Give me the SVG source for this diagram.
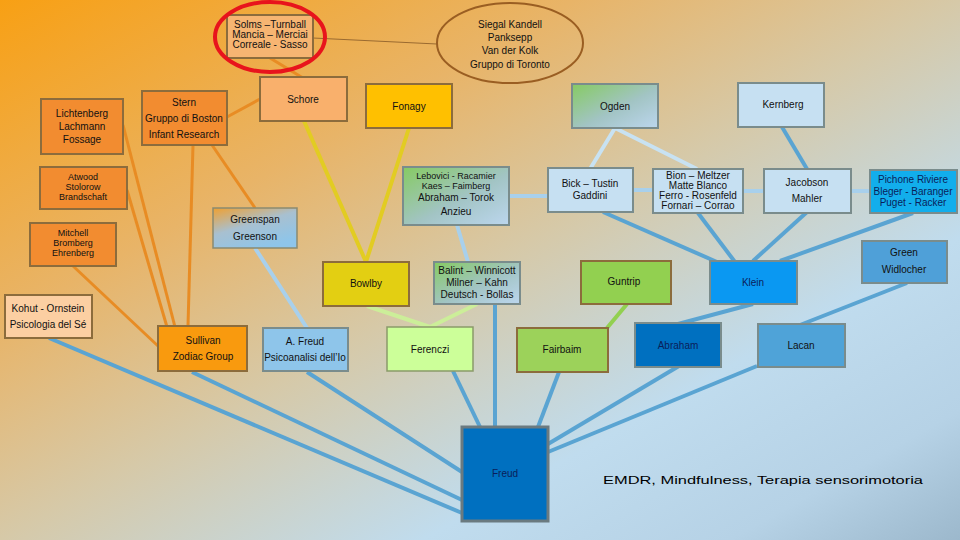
<svg xmlns="http://www.w3.org/2000/svg" width="960" height="540" viewBox="0 0 960 540">
<defs>
<linearGradient id="bg" x1="0" y1="0" x2="1" y2="1">
<stop offset="0" stop-color="#F8A014"/>
<stop offset="0.3" stop-color="#E8B468"/>
<stop offset="0.5" stop-color="#D6C9A8"/>
<stop offset="0.72" stop-color="#C0DCEE"/>
<stop offset="0.88" stop-color="#B6D2E6"/>
<stop offset="1" stop-color="#9CB8CC"/>
</linearGradient>
<linearGradient id="gb" x1="0" y1="0" x2="1" y2="1">
<stop offset="0" stop-color="#86CB62"/>
<stop offset="0.55" stop-color="#A2C4C4"/>
<stop offset="1" stop-color="#BCD6EE"/>
</linearGradient>
<linearGradient id="ob" x1="0" y1="0" x2="0.6" y2="1">
<stop offset="0" stop-color="#F0A030"/>
<stop offset="0.5" stop-color="#A8C0D0"/>
<stop offset="1" stop-color="#8EC5EA"/>
</linearGradient>
<style>
text{font-family:"Liberation Sans",Arial,sans-serif;font-size:10px;text-anchor:middle;fill:#111}
.t9{font-size:9px}
.or{stroke:#8C6C3C;stroke-width:2}
.bl{stroke:#7A8C8C;stroke-width:2}
.c line{fill:none;stroke-linecap:butt}
.co{stroke:#E88C24;stroke-width:3}
.cy{stroke:#E2CC22;stroke-width:4}
.cl{stroke:#A8D0EC;stroke-width:4}
.cvl{stroke:#C8E2F2;stroke-width:4}
.cb{stroke:#5AA4D2;stroke-width:4}
.cg{stroke:#CCEE99;stroke-width:4}
.cgr{stroke:#92D050;stroke-width:4}
.dk{fill:#0A1E5A}
</style>
</defs>
<rect width="960" height="540" fill="url(#bg)"/>
<g class="c" id="connectors">
<line x1="313" y1="38" x2="437" y2="44" stroke="#9A6A30" stroke-width="1"/>
<line class="co" x1="270" y1="58" x2="303" y2="78"/>
<line class="co" x1="227" y1="117" x2="260" y2="99"/>
<line class="co" x1="212" y1="145" x2="255" y2="208"/>
<line class="co" x1="193" y1="145" x2="188" y2="326"/>
<line class="co" x1="123" y1="125" x2="175" y2="327"/>
<line class="co" x1="127" y1="190" x2="167" y2="327"/>
<line class="co" x1="73" y1="266" x2="158" y2="346"/>
<line class="cy" x1="304" y1="121" x2="366" y2="262"/>
<line class="cy" x1="409" y1="128" x2="366" y2="262"/>
<line class="cl" x1="255" y1="248" x2="307" y2="328"/>
<line class="cl" x1="457" y1="225" x2="468" y2="262" stroke="#8CBCE0"/>
<line class="cl" x1="509" y1="196" x2="548" y2="196"/>
<line class="cvl" x1="615" y1="128" x2="590" y2="169"/>
<line class="cvl" x1="615" y1="128" x2="697" y2="169"/>
<line class="cl" x1="633" y1="190" x2="653" y2="190"/>
<line class="cl" x1="743" y1="191" x2="764" y2="191"/>
<line class="cl" x1="851" y1="191" x2="870" y2="191"/>
<line class="cg" x1="367" y1="306" x2="430" y2="327"/>
<line class="cg" x1="477" y1="304" x2="430" y2="327"/>
<line class="cb" x1="782" y1="127" x2="807" y2="169"/>
<line class="cb" x1="603" y1="212" x2="717" y2="262"/>
<line class="cb" x1="698" y1="213" x2="735" y2="262"/>
<line class="cb" x1="807" y1="212" x2="753" y2="261"/>
<line class="cb" x1="913" y1="213" x2="780" y2="261"/>
<line class="cb" x1="753" y1="304" x2="678" y2="324"/>
<line class="cb" x1="907" y1="283" x2="800" y2="325"/>
<line class="cgr" x1="627" y1="304" x2="607" y2="328"/>
<line class="cb" x1="495" y1="304" x2="495" y2="427"/>
<line class="cb" x1="453" y1="371" x2="480" y2="427"/>
<line class="cb" x1="559" y1="372" x2="538" y2="427"/>
<line class="cb" x1="679" y1="366" x2="548" y2="444"/>
<line class="cb" x1="757" y1="366" x2="548" y2="452"/>
<line class="cb" x1="49" y1="338" x2="462" y2="513"/>
<line class="cb" x1="192" y1="372" x2="462" y2="500"/>
<line class="cb" x1="307" y1="372" x2="462" y2="472"/>
</g>
<g id="solms">
<rect class="or" x="227" y="15" width="86" height="43" fill="#F6B572"/>
<text x="270" y="28">Solms –Turnball</text>
<text x="270" y="38">Mancia – Merciai</text>
<text x="270" y="48">Correale - Sasso</text>
<ellipse cx="270" cy="37" rx="55" ry="35" fill="none" stroke="#E8141C" stroke-width="4"/>
</g>
<g id="siegal">
<ellipse cx="510" cy="43" rx="73" ry="40" fill="none" stroke="#9A5E22" stroke-width="2"/>
<text x="510" y="28">Siegal Kandell</text>
<text x="510" y="41">Panksepp</text>
<text x="510" y="54">Van der Kolk</text>
<text x="510" y="68">Gruppo di Toronto</text>
</g>
<g id="schore"><rect class="or" x="260" y="77" width="87" height="44" fill="#F9B06C"/><text x="303" y="103">Schore</text></g>
<g id="fonagy"><rect class="or" x="366" y="84" width="86" height="44" fill="#FFC000"/><text x="409" y="110">Fonagy</text></g>
<g id="stern"><rect class="or" x="142" y="91" width="85" height="54" fill="#F28C30"/>
<text x="184" y="106">Stern</text><text x="184" y="122">Gruppo di Boston</text><text x="184" y="138">Infant Research</text></g>
<g id="lichtenberg"><rect class="or" x="41" y="99" width="82" height="55" fill="#F28C30"/>
<text x="82" y="117">Lichtenberg</text><text x="82" y="130">Lachmann</text><text x="82" y="143">Fossage</text></g>
<g id="atwood"><rect class="or" x="40" y="167" width="87" height="42" fill="#F28C30"/>
<text class="t9" x="83" y="180">Atwood</text><text class="t9" x="83" y="190">Stolorow</text><text class="t9" x="83" y="200">Brandschaft</text></g>
<g id="mitchell"><rect class="or" x="30" y="223" width="86" height="43" fill="#F28C30"/>
<text class="t9" x="73" y="236">Mitchell</text><text class="t9" x="73" y="246">Bromberg</text><text class="t9" x="73" y="256">Ehrenberg</text></g>
<g id="kohut"><rect class="or" x="5" y="295" width="87" height="43" fill="#FCCFA2" stroke-width="1.5"/>
<text x="48" y="312">Kohut - Ornstein</text><text x="48" y="328">Psicologia del Sé</text></g>
<g id="greenspan"><rect x="213" y="208" width="84" height="40" fill="url(#ob)" stroke="#8A8A70" stroke-width="1.5"/>
<text x="255" y="223">Greenspan</text><text x="255" y="240">Greenson</text></g>
<g id="sullivan"><rect class="or" x="158" y="326" width="89" height="45" fill="#F99A0E"/>
<text x="203" y="344">Sullivan</text><text x="203" y="360">Zodiac Group</text></g>
<g id="afreud"><rect class="bl" x="263" y="328" width="85" height="43" fill="#8EC5EA" stroke-width="1.5"/>
<text x="305" y="345">A. Freud</text><text x="305" y="361" font-size="9.5">Psicoanalisi dell’Io</text></g>
<g id="bowlby"><rect class="or" x="323" y="262" width="86" height="44" fill="#E3CF12"/><text x="366" y="287">Bowlby</text></g>
<g id="lebovici"><rect class="bl" x="403" y="167" width="106" height="58" fill="url(#gb)"/>
<text class="t9" x="456" y="179">Lebovici - Racamier</text><text class="t9" x="456" y="189">Kaes – Faimberg</text><text x="456" y="201">Abraham – Torok</text><text x="456" y="215">Anzieu</text></g>
<g id="balint"><rect class="bl" x="434" y="262" width="86" height="42" fill="url(#gb)"/>
<text x="477" y="274">Balint – Winnicott</text><text x="477" y="286">Milner – Kahn</text><text x="477" y="298">Deutsch - Bollas</text></g>
<g id="ferenczi"><rect x="387" y="327" width="86" height="44" fill="#CCFF99" stroke="#8A9A6A" stroke-width="1.5"/><text x="430" y="353">Ferenczi</text></g>
<g id="ogden"><rect class="bl" x="572" y="84" width="86" height="44" fill="url(#gb)"/><text x="615" y="110">Ogden</text></g>
<g id="kernberg"><rect class="bl" x="738" y="83" width="86" height="44" fill="#C6E0F2"/><text x="783" y="108">Kernberg</text></g>
<g id="bick"><rect class="bl" x="548" y="168" width="85" height="44" fill="#C6E0F2"/>
<text x="590" y="187">Bick – Tustin</text><text x="590" y="199">Gaddini</text></g>
<g id="bion"><rect class="bl" x="653" y="169" width="90" height="44" fill="#C6E0F2"/>
<text x="698" y="179">Bion – Meltzer</text><text x="698" y="189">Matte Blanco</text><text x="698" y="199">Ferro - Rosenfeld</text><text x="698" y="209">Fornari – Corrao</text></g>
<g id="jacobson"><rect class="bl" x="764" y="169" width="87" height="44" fill="#C6E0F2"/>
<text x="807" y="186">Jacobson</text><text x="807" y="202">Mahler</text></g>
<g id="pichone"><rect class="bl" x="870" y="170" width="87" height="43" fill="#12AEEC"/>
<text class="dk" x="913" y="183">Pichone Riviere</text><text class="dk" x="913" y="195">Bleger - Baranger</text><text class="dk" x="913" y="206">Puget - Racker</text></g>
<g id="green"><rect class="bl" x="862" y="241" width="85" height="42" fill="#4FA0D8"/>
<text x="904" y="256">Green</text><text x="904" y="273">Widlocher</text></g>
<g id="guntrip"><rect class="or" x="581" y="261" width="90" height="43" fill="#92D050" stroke="#7A7A50"/><text x="624" y="285">Guntrip</text></g>
<g id="klein"><rect class="bl" x="710" y="261" width="87" height="43" fill="#0A98F2"/><text class="dk" x="753" y="286">Klein</text></g>
<g id="fairbairn"><rect class="or" x="517" y="328" width="91" height="44" fill="#9CD25A" stroke="#7A8A50" stroke-width="1.5"/><text x="562" y="353">Fairbaim</text></g>
<g id="abraham"><rect class="bl" x="635" y="323" width="86" height="44" fill="#0070C0"/><text class="dk" x="678" y="349">Abraham</text></g>
<g id="lacan"><rect class="bl" x="758" y="324" width="87" height="43" fill="#4FA3D8"/><text x="801" y="349">Lacan</text></g>
<g id="freud"><rect x="462" y="427" width="86" height="94" fill="#0070C0" stroke="#6A7A80" stroke-width="3"/><text class="dk" x="505" y="477">Freud</text></g>
<text x="763" y="484" font-size="17" textLength="320" lengthAdjust="spacingAndGlyphs" style="font-family:'Liberation Sans',Arial,sans-serif;fill:#000">EMDR, Mindfulness, Terapia sensorimotoria</text>
</svg>
